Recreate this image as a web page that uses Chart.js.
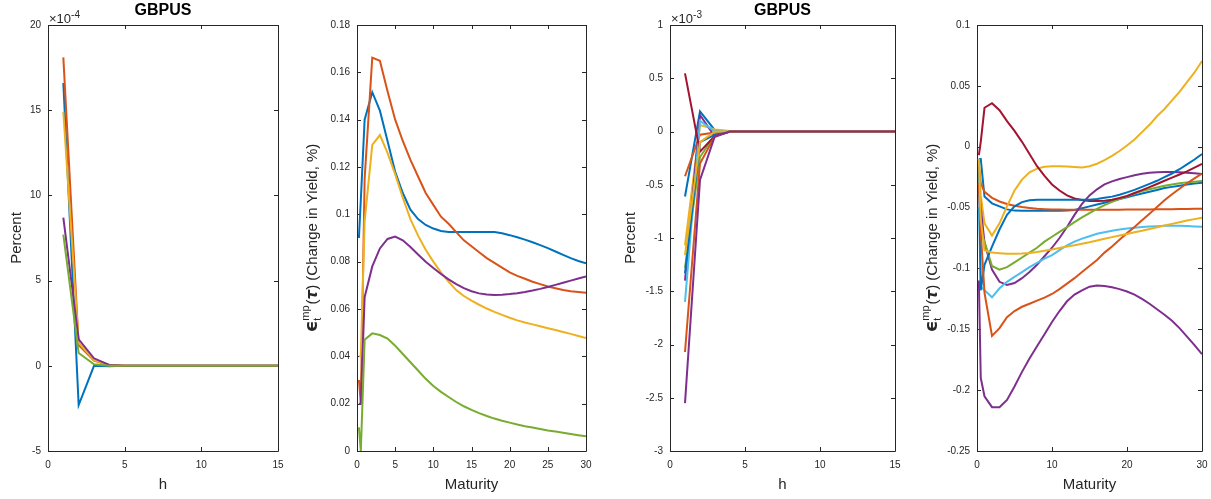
<!DOCTYPE html>
<html>
<head>
<meta charset="utf-8">
<title>GBPUS</title>
<script src="https://cdn.jsdelivr.net/npm/chart.js@4.4.1/dist/chart.umd.min.js"></script>
<style>
  html, body { margin: 0; padding: 0; background: #fff; }
  body { position: relative; width: 1211px; height: 499px; overflow: hidden; }
  .panel { position: absolute; top: 0; height: 499px; }
</style>
</head>
<body>
<div class="panel" style="left:0;width:300px"><canvas id="irfLeft"></canvas></div>
<div class="panel" style="left:300px;width:300px"><canvas id="curveLeft"></canvas></div>
<div class="panel" style="left:600px;width:310px"><canvas id="irfRight"></canvas></div>
<div class="panel" style="left:910px;width:306px"><canvas id="curveRight"></canvas></div>
<script>
// x values
const horizons = [1, 2, 3, 4, 5, 6, 7, 8, 9, 10, 11, 12, 13, 14, 15];
const maturities = [0.25, 0.5, 1, 2, 3, 4, 5, 6, 7, 8, 9, 10, 11, 12, 13, 14, 15, 16, 17, 18, 19, 20, 21, 22, 23, 24, 25, 26, 27, 28, 29, 30];

// panel 1: impulse responses, in units of 1e-4
const irfLeftBlue   = [16.6, -2.3, 0.0, -0.02, 0, 0, 0, 0, 0, 0, 0, 0, 0, 0, 0];
const irfLeftOrange = [18.1, 1.22, 0.30, 0.03, 0, 0, 0, 0, 0, 0, 0, 0, 0, 0, 0];
const irfLeftYellow = [14.9, 1.35, 0.33, 0.03, 0, 0, 0, 0, 0, 0, 0, 0, 0, 0, 0];
const irfLeftPurple = [8.7, 1.55, 0.44, 0.05, 0, 0, 0, 0, 0, 0, 0, 0, 0, 0, 0];
const irfLeftGreen  = [7.7, 0.75, 0.09, 0.01, 0, 0, 0, 0, 0, 0, 0, 0, 0, 0, 0];

// panel 2: yield change by maturity
const curveLeftBlue   = [0.090, 0.106, 0.140, 0.1516, 0.1438, 0.131, 0.118, 0.109, 0.102, 0.098, 0.0955, 0.094, 0.093, 0.0925, 0.0925, 0.0925, 0.0925, 0.0925, 0.0925, 0.0925, 0.092, 0.0912, 0.0903, 0.0893, 0.0882, 0.087, 0.0857, 0.0843, 0.0829, 0.0815, 0.0803, 0.0793];
const curveLeftOrange = [0.030, 0.020, 0.115, 0.1662, 0.1649, 0.152, 0.140, 0.131, 0.123, 0.116, 0.109, 0.104, 0.099, 0.096, 0.0925, 0.089, 0.0865, 0.084, 0.0815, 0.0795, 0.0775, 0.0755, 0.074, 0.0728, 0.0715, 0.0705, 0.0695, 0.0688, 0.068, 0.0675, 0.0672, 0.0669];
const curveLeftYellow = [0.040, 0.040, 0.097, 0.1293, 0.1335, 0.126, 0.117, 0.107, 0.098, 0.091, 0.085, 0.080, 0.0755, 0.0715, 0.068, 0.0655, 0.0635, 0.0618, 0.0602, 0.0588, 0.0575, 0.0563, 0.0552, 0.0543, 0.0535, 0.0527, 0.0519, 0.0511, 0.0503, 0.0495, 0.0486, 0.0477];
const curveLeftPurple = [0.020, 0.020, 0.065, 0.078, 0.0856, 0.0896, 0.0906, 0.0890, 0.0862, 0.0830, 0.0800, 0.0773, 0.0748, 0.0725, 0.0705, 0.0688, 0.0675, 0.0666, 0.0661, 0.0659, 0.0660, 0.0663, 0.0667, 0.0672, 0.0678, 0.0685, 0.0693, 0.0702, 0.0711, 0.0720, 0.0729, 0.0737];
const curveLeftGreen  = [0.010, 0.000, 0.047, 0.0497, 0.049, 0.0475, 0.0445, 0.041, 0.0375, 0.034, 0.0305, 0.0275, 0.025, 0.0228, 0.0207, 0.0189, 0.0174, 0.016, 0.0148, 0.0137, 0.0128, 0.012, 0.0112, 0.0105, 0.0099, 0.0093, 0.0087, 0.0082, 0.0077, 0.0072, 0.0067, 0.0062];

// panel 3: impulse responses, in units of 1e-3
const irfRightBlue1   = [-0.61, 0.19, 0.01, 0, 0, 0, 0, 0, 0, 0, 0, 0, 0, 0, 0];
const irfRightOrange1 = [-0.42, -0.03, -0.01, 0, 0, 0, 0, 0, 0, 0, 0, 0, 0, 0, 0];
const irfRightYellow1 = [-1.07, 0.06, 0.02, 0.005, 0, 0, 0, 0, 0, 0, 0, 0, 0, 0, 0];
const irfRightPurple1 = [-1.40, 0.155, -0.05, 0, 0, 0, 0, 0, 0, 0, 0, 0, 0, 0, 0];
const irfRightGreen   = [-1.28, -0.24, -0.03, 0, 0, 0, 0, 0, 0, 0, 0, 0, 0, 0, 0];
const irfRightCyan    = [-1.60, 0.10, 0.0, 0, 0, 0, 0, 0, 0, 0, 0, 0, 0, 0, 0];
const irfRightRed     = [0.546, -0.19, -0.04, 0, 0, 0, 0, 0, 0, 0, 0, 0, 0, 0, 0];
const irfRightBlue2   = [-1.33, -0.10, -0.03, 0, 0, 0, 0, 0, 0, 0, 0, 0, 0, 0, 0];
const irfRightOrange2 = [-2.07, -0.30, -0.04, 0, 0, 0, 0, 0, 0, 0, 0, 0, 0, 0, 0];
const irfRightYellow2 = [-1.16, -0.10, 0.0, 0, 0, 0, 0, 0, 0, 0, 0, 0, 0, 0, 0];
const irfRightPurple2 = [-2.55, -0.455, -0.04, 0, 0, 0, 0, 0, 0, 0, 0, 0, 0, 0, 0];

// panel 4: yield change by maturity
const curveRightBlue1   = [-0.010, -0.010, -0.041, -0.0465, -0.049, -0.0515, -0.0525, -0.0527, -0.0527, -0.0527, -0.0527, -0.0527, -0.0527, -0.0525, -0.052, -0.0505, -0.049, -0.0475, -0.046, -0.0445, -0.043, -0.0415, -0.040, -0.0385, -0.037, -0.0355, -0.034, -0.033, -0.032, -0.031, -0.0303, -0.0296];
const curveRightOrange1 = [-0.015, -0.030, -0.037, -0.042, -0.045, -0.047, -0.0485, -0.0495, -0.0503, -0.051, -0.0513, -0.0515, -0.0516, -0.0517, -0.0517, -0.0517, -0.0517, -0.0517, -0.0517, -0.0517, -0.0517, -0.0516, -0.0516, -0.0515, -0.0515, -0.0514, -0.0514, -0.0513, -0.0512, -0.0511, -0.051, -0.0509];
const curveRightYellow1 = [-0.010, -0.040, -0.063, -0.073, -0.063, -0.049, -0.036, -0.027, -0.021, -0.018, -0.0165, -0.016, -0.016, -0.0163, -0.0167, -0.017, -0.016, -0.014, -0.011, -0.0075, -0.0035, 0.001, 0.006, 0.012, 0.018, 0.025, 0.031, 0.038, 0.045, 0.053, 0.061, 0.0704];
const curveRightPurple1 = [-0.030, -0.050, -0.079, -0.101, -0.111, -0.1135, -0.112, -0.108, -0.103, -0.097, -0.090, -0.083, -0.075, -0.066, -0.056, -0.047, -0.040, -0.035, -0.031, -0.0285, -0.0265, -0.025, -0.0235, -0.0222, -0.0214, -0.021, -0.0208, -0.0208, -0.021, -0.0214, -0.0219, -0.0224];
const curveRightGreen   = [-0.050, -0.070, -0.078, -0.098, -0.101, -0.099, -0.095, -0.091, -0.087, -0.083, -0.078, -0.074, -0.070, -0.066, -0.062, -0.058, -0.0545, -0.051, -0.048, -0.0453, -0.043, -0.041, -0.0385, -0.0365, -0.035, -0.0335, -0.032, -0.031, -0.030, -0.0293, -0.0287, -0.0282];
const curveRightCyan    = [-0.050, -0.115, -0.118, -0.1237, -0.1163, -0.111, -0.107, -0.103, -0.099, -0.0955, -0.092, -0.089, -0.085, -0.081, -0.078, -0.0755, -0.0735, -0.0715, -0.0702, -0.069, -0.068, -0.0672, -0.0665, -0.066, -0.0656, -0.0653, -0.065, -0.065, -0.065, -0.0652, -0.0655, -0.0657];
const curveRightRed     = [-0.007, 0.004, 0.032, 0.0357, 0.030, 0.021, 0.013, 0.004, -0.006, -0.016, -0.024, -0.031, -0.036, -0.040, -0.0425, -0.0438, -0.0445, -0.0447, -0.0443, -0.0435, -0.0422, -0.0405, -0.038, -0.0357, -0.0332, -0.0306, -0.028, -0.0254, -0.0228, -0.0202, -0.0172, -0.0142];
const curveRightBlue2   = [-0.010, -0.118, -0.097, -0.082, -0.068, -0.056, -0.049, -0.0455, -0.044, -0.0435, -0.0435, -0.0435, -0.0435, -0.0435, -0.0435, -0.0435, -0.0435, -0.043, -0.042, -0.041, -0.0395, -0.0375, -0.0355, -0.033, -0.0305, -0.028, -0.025, -0.022, -0.0185, -0.0145, -0.0105, -0.006];
const curveRightOrange2 = [-0.030, -0.070, -0.120, -0.1555, -0.149, -0.140, -0.135, -0.1315, -0.129, -0.1265, -0.124, -0.121, -0.117, -0.1125, -0.108, -0.103, -0.098, -0.093, -0.087, -0.082, -0.0765, -0.071, -0.066, -0.0605, -0.055, -0.0495, -0.044, -0.039, -0.0345, -0.030, -0.026, -0.022];
const curveRightYellow2 = [-0.010, -0.060, -0.085, -0.087, -0.0875, -0.088, -0.088, -0.0878, -0.0873, -0.0865, -0.0855, -0.0845, -0.0832, -0.082, -0.081, -0.0797, -0.0785, -0.077, -0.0757, -0.0743, -0.073, -0.0717, -0.0703, -0.069, -0.0676, -0.0662, -0.0648, -0.0634, -0.062, -0.0607, -0.0595, -0.0583];
const curveRightPurple2 = [-0.110, -0.190, -0.205, -0.214, -0.214, -0.208, -0.197, -0.185, -0.174, -0.164, -0.154, -0.144, -0.135, -0.127, -0.1215, -0.118, -0.115, -0.114, -0.1145, -0.1155, -0.117, -0.119, -0.1215, -0.125, -0.129, -0.1335, -0.138, -0.143, -0.149, -0.156, -0.163, -0.1705];

// tick values and labels
const hTicks = [0, 5, 10, 15];
const maturityTicksLeft = [0, 5, 10, 15, 20, 25, 30];
const maturityTicksRight = [0, 10, 20, 30];
const irfLeftTicks = [-5, 0, 5, 10, 15, 20];
const irfLeftLabels = ['-5', '0', '5', '10', '15', '20'];
const curveLeftTicks = [0, 0.02, 0.04, 0.06, 0.08, 0.1, 0.12, 0.14, 0.16, 0.18];
const curveLeftLabels = ['0', '0.02', '0.04', '0.06', '0.08', '0.1', '0.12', '0.14', '0.16', '0.18'];
const irfRightTicks = [-3, -2.5, -2, -1.5, -1, -0.5, 0, 0.5, 1];
const irfRightLabels = ['-3', '-2.5', '-2', '-1.5', '-1', '-0.5', '0', '0.5', '1'];
const curveRightTicks = [-0.25, -0.2, -0.15, -0.1, -0.05, 0, 0.05, 0.1];
const curveRightLabels = ['-0.25', '-0.2', '-0.15', '-0.1', '-0.05', '0', '0.05', '0.1'];

const matlabColors = ['#0072BD', '#D95319', '#EDB120', '#7E2F8E', '#77AC30', '#4DBEEE', '#A2142F'];
const axisColor = '#262626';
const sansFamily = '"Liberation Sans", Arial, Helvetica, sans-serif';

Chart.defaults.font.family = sansFamily;
Chart.defaults.color = axisColor;

// MATLAB-like box with inward ticks, titles and the exponent note
const matlabBox = {
    id: 'matlabBox',
    beforeDatasetsDraw(chart) {
        const { ctx, chartArea: a, scales } = chart;
        ctx.save();
        ctx.strokeStyle = axisColor;
        ctx.lineWidth = 1;
        ctx.beginPath();
        scales.x.ticks.forEach(t => {
            const px = Math.round(scales.x.getPixelForValue(t.value)) + 0.5;
            ctx.moveTo(px, a.bottom); ctx.lineTo(px, a.bottom - 4);
            ctx.moveTo(px, a.top); ctx.lineTo(px, a.top + 4);
        });
        scales.y.ticks.forEach(t => {
            const py = Math.round(scales.y.getPixelForValue(t.value)) + 0.5;
            ctx.moveTo(a.left, py); ctx.lineTo(a.left + 4, py);
            ctx.moveTo(a.right, py); ctx.lineTo(a.right - 4, py);
        });
        ctx.rect(Math.round(a.left) + 0.5, Math.round(a.top) + 0.5, Math.round(a.right - a.left), Math.round(a.bottom - a.top));
        ctx.stroke();
        ctx.restore();
    },
    afterDraw(chart, args, opts) {
        const { ctx, chartArea: a } = chart;
        ctx.save();
        if (opts.title) {
            ctx.font = 'bold 16px ' + sansFamily;
            ctx.fillStyle = '#000';
            ctx.textAlign = 'center';
            ctx.textBaseline = 'middle';
            ctx.fillText(opts.title, (a.left + a.right) / 2, 11);
        }
        if (opts.exponent) {
            ctx.fillStyle = axisColor;
            ctx.textAlign = 'left';
            ctx.textBaseline = 'alphabetic';
            ctx.font = '13px ' + sansFamily;
            ctx.fillText('\u00D710', a.left + 1, 22.5);
            const w = ctx.measureText('\u00D710').width;
            ctx.font = '10px ' + sansFamily;
            ctx.fillText(opts.exponent, a.left + 1 + w, 17.5);
        }
        if (opts.loadingLabel) {
            drawLoadingLabel(ctx, a.left - 40, (a.top + a.bottom) / 2);
        }
        ctx.restore();
    }
};

// y label: epsilon_t^mp(tau) (Change in Yield, %)
function drawLoadingLabel(ctx, baseX, centerY) {
    const pieces = [
        { text: '\u03F5', font: 'bold 18px "DejaVu Sans"', dy: 0 },
        { text: 'mp', font: '11px ' + sansFamily, dy: -8, sub: 't' },
        { text: '(', font: '15px ' + sansFamily, dy: 0 },
        { text: '\u03C4', font: 'italic bold 15px "DejaVu Sans"', dy: 0 },
        { text: ') (Change in Yield, %)', font: '15px ' + sansFamily, dy: 0 }
    ];
    let total = 0;
    pieces.forEach(p => {
        ctx.font = p.font;
        p.w = ctx.measureText(p.text).width;
        if (p.sub) p.w = Math.max(p.w, ctx.measureText(p.sub).width) + 1;
        total += p.w;
    });
    ctx.save();
    ctx.translate(baseX, centerY);
    ctx.rotate(-Math.PI / 2);
    ctx.fillStyle = axisColor;
    ctx.textAlign = 'left';
    ctx.textBaseline = 'alphabetic';
    let x = -total / 2;
    pieces.forEach(p => {
        ctx.font = p.font;
        ctx.fillText(p.text, x, p.dy);
        if (p.sub) ctx.fillText(p.sub, x, 4);
        x += p.w;
    });
    ctx.restore();
}

function makePanel(id, cfg) {
    const n = cfg.series.length;
    return new Chart(document.getElementById(id), {
        type: 'line',
        data: {
            datasets: cfg.series.map((ys, i) => ({
                data: ys.map((v, j) => ({ x: cfg.xs[j], y: v })),
                borderColor: matlabColors[i % matlabColors.length],
                borderWidth: 2,
                pointRadius: 0,
                fill: false,
                tension: 0,
                order: n - i
            }))
        },
        options: {
            responsive: true,
            maintainAspectRatio: false,
            animation: false,
            events: [],
            layout: { padding: { top: 25, right: cfg.right, bottom: 0, left: 0 } },
            plugins: {
                legend: { display: false },
                tooltip: { enabled: false },
                matlabBox: { title: cfg.title, exponent: cfg.exponent, loadingLabel: cfg.loadingLabel }
            },
            scales: {
                x: {
                    type: 'linear',
                    min: cfg.xMin,
                    max: cfg.xMax,
                    afterBuildTicks: s => { s.ticks = cfg.xTicks.map(v => ({ value: v })); },
                    afterFit: s => { s.height = 48; },
                    ticks: { autoSkip: false, maxRotation: 0, padding: 8, font: { size: 10 }, color: axisColor, callback: v => String(v) },
                    grid: { display: false, drawTicks: false },
                    border: { display: false },
                    title: { display: true, text: cfg.xTitle, font: { size: 15 }, color: axisColor, padding: { top: 0, bottom: 5 } }
                },
                y: {
                    min: cfg.yTicks[0],
                    max: cfg.yTicks[cfg.yTicks.length - 1],
                    afterBuildTicks: s => { s.ticks = cfg.yTicks.map(v => ({ value: v })); },
                    afterFit: s => { s.width = cfg.axisWidth; },
                    ticks: { autoSkip: false, padding: 7, font: { size: 10 }, color: axisColor, callback: (v, i) => cfg.yLabels[i] },
                    grid: { display: false, drawTicks: false },
                    border: { display: false },
                    title: { display: !!cfg.yTitle, text: cfg.yTitle || '', font: { size: 15 }, color: axisColor, padding: { top: cfg.yTitlePad || 0, bottom: 0 } }
                }
            }
        },
        plugins: [matlabBox]
    });
}

makePanel('irfLeft', {
    xs: horizons, xMin: 0, xMax: 15, xTicks: hTicks, xTitle: 'h',
    yTicks: irfLeftTicks, yLabels: irfLeftLabels, yTitle: 'Percent', yTitlePad: 8,
    axisWidth: 48, right: 22, title: 'GBPUS', exponent: '-4',
    series: [irfLeftBlue, irfLeftOrange, irfLeftYellow, irfLeftPurple, irfLeftGreen]
});

makePanel('curveLeft', {
    xs: maturities, xMin: 0, xMax: 30, xTicks: maturityTicksLeft, xTitle: 'Maturity',
    yTicks: curveLeftTicks, yLabels: curveLeftLabels, loadingLabel: true,
    axisWidth: 57, right: 14,
    series: [curveLeftBlue, curveLeftOrange, curveLeftYellow, curveLeftPurple, curveLeftGreen]
});

makePanel('irfRight', {
    xs: horizons, xMin: 0, xMax: 15, xTicks: hTicks, xTitle: 'h',
    yTicks: irfRightTicks, yLabels: irfRightLabels, yTitle: 'Percent', yTitlePad: 22,
    axisWidth: 70, right: 15, title: 'GBPUS', exponent: '-3',
    series: [irfRightBlue1, irfRightOrange1, irfRightYellow1, irfRightPurple1, irfRightGreen, irfRightCyan,
             irfRightRed, irfRightBlue2, irfRightOrange2, irfRightYellow2, irfRightPurple2]
});

makePanel('curveRight', {
    xs: maturities, xMin: 0, xMax: 30, xTicks: maturityTicksRight, xTitle: 'Maturity',
    yTicks: curveRightTicks, yLabels: curveRightLabels, loadingLabel: true,
    axisWidth: 67, right: 14,
    series: [curveRightBlue1, curveRightOrange1, curveRightYellow1, curveRightPurple1, curveRightGreen, curveRightCyan,
             curveRightRed, curveRightBlue2, curveRightOrange2, curveRightYellow2, curveRightPurple2]
});
</script>
</body>
</html>
